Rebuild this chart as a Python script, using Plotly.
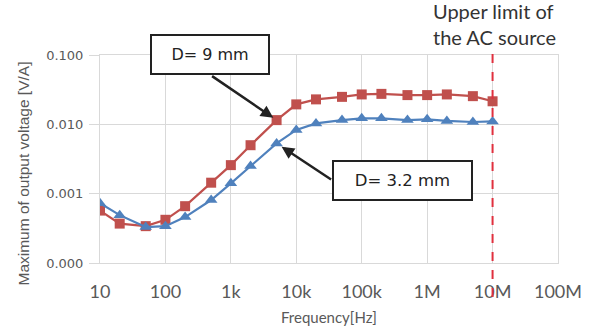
import math
import plotly.graph_objects as go

# ---- data ----
freq_hz = [10, 20, 50, 100, 200, 500, 1e3, 2e3, 5e3, 1e4, 2e4, 5e4,
           1e5, 2e5, 5e5, 1e6, 2e6, 5e6, 1e7]
d9_mm = [0.00057, 0.00037, 0.00034, 0.00042, 0.00066, 0.00144, 0.00258,
         0.0050, 0.0115, 0.0194, 0.0229, 0.0249, 0.0270, 0.0275, 0.0264,
         0.0264, 0.0270, 0.0255, 0.0215]
d32_mm = [0.00073, 0.00049, 0.00033, 0.00034, 0.00046, 0.00081, 0.00141,
          0.0025, 0.0053, 0.0083, 0.0103, 0.0115, 0.0122, 0.0122, 0.0115,
          0.0118, 0.0112, 0.0108, 0.0110]
x_tickvals = [10, 100, 1e3, 1e4, 1e5, 1e6, 1e7, 1e8]
x_ticktext = ["10", "100", "1k", "10k", "100k", "1M", "10M", "100M"]
y_tickvals = [0.0001, 0.001, 0.01, 0.1]
y_ticktext = ["0.000", "0.001", "0.010", "0.100"]
ac_limit_hz = 1e7
arrow_idx = 8  # the 5 kHz point that both labels point to

RED = "#C0504D"
BLUE = "#4F81BD"
GRID = "#D9D9D9"
TXT = "#595959"

fig = go.Figure()
fig.add_trace(go.Scatter(
    x=freq_hz, y=d9_mm, mode="lines+markers", name="D= 9 mm",
    line=dict(color=RED, width=2.2),
    marker=dict(symbol="square", size=10, color=RED)))
fig.add_trace(go.Scatter(
    x=freq_hz, y=d32_mm, mode="lines+markers", name="D= 3.2 mm",
    line=dict(color=BLUE, width=2.2),
    marker=dict(symbol="triangle-up", size=11, color=BLUE)))

# upper limit line
fig.add_shape(type="line", xref="x", yref="paper",
              x0=ac_limit_hz, x1=ac_limit_hz, y0=-0.163, y1=1.01,
              line=dict(color="#E0303E", width=2, dash="dash"))

# arrows (near-empty annotations; log axes take log10 positions)
fig.add_annotation(x=math.log10(freq_hz[arrow_idx]),
                   y=math.log10(d9_mm[arrow_idx]), xref="x", yref="y",
                   text=" ", font=dict(size=1), showarrow=True,
                   ax=-66, ay=-45, arrowhead=2, arrowsize=1, arrowwidth=2.5,
                   arrowcolor="#222222", standoff=4)
fig.add_annotation(x=math.log10(freq_hz[arrow_idx]),
                   y=math.log10(d32_mm[arrow_idx]), xref="x", yref="y",
                   text=" ", font=dict(size=1), showarrow=True,
                   ax=56, ay=37, arrowhead=2, arrowsize=1, arrowwidth=2.5,
                   arrowcolor="#222222", standoff=6)

# label boxes
fig.add_annotation(x=0.2391, y=1.0014, xref="paper", yref="paper",
                   xanchor="center", yanchor="middle",
                   text="D= 9 mm", showarrow=False,
                   font=dict(family="DejaVu Sans", size=16, color="#222222"),
                   bgcolor="white", bordercolor="#222222", borderwidth=2,
                   borderpad=1, width=114, height=35)
fig.add_annotation(x=0.6605, y=0.395, xref="paper", yref="paper",
                   xanchor="center", yanchor="middle",
                   text="D= 3.2 mm", showarrow=False,
                   font=dict(family="DejaVu Sans", size=16.5, color="#222222"),
                   bgcolor="white", bordercolor="#222222", borderwidth=2,
                   borderpad=1, width=135, height=35)

# upper limit text
fig.add_annotation(x=1.0, y=1.0, xref="paper", yref="paper",
                   xanchor="right", yanchor="bottom", yshift=4,
                   text="Upper limit of<br>the AC source", showarrow=False,
                   align="left",
                   font=dict(family="Lato", size=20, color="#333333"))

# axis titles as annotations
fig.add_annotation(x=0.5, y=-0.262, xref="paper", yref="paper",
                   xanchor="center", yanchor="middle",
                   text="Frequency[Hz]", showarrow=False,
                   font=dict(family="Lato", size=15, color=TXT))
fig.add_annotation(x=-0.166, y=0.43, xref="paper", yref="paper",
                   xanchor="center", yanchor="middle",
                   textangle=-90, text="Maximum of output voltage [V/A]",
                   showarrow=False,
                   font=dict(family="Liberation Sans", size=15.5, color=TXT))

fig.update_xaxes(type="log", range=[1, 8], tickvals=x_tickvals,
                 ticktext=x_ticktext, showgrid=True, gridcolor=GRID,
                 gridwidth=1, showline=True, linecolor=GRID, mirror=True,
                 zeroline=False, ticks="", ticklabelstandoff=12,
                 tickfont=dict(family="Lato", size=18, color=TXT))
fig.update_yaxes(type="log", range=[-4, -1], tickvals=y_tickvals,
                 ticktext=y_ticktext, showgrid=True, gridcolor=GRID,
                 gridwidth=1, showline=True, linecolor=GRID, mirror=True,
                 zeroline=False, ticks="outside", ticklen=10, tickcolor=GRID,
                 ticklabelstandoff=3,
                 tickfont=dict(family="DejaVu Sans", size=13, color=TXT))

fig.update_layout(width=593, height=326, autosize=False,
                  margin=dict(l=100, r=35, t=55, b=63),
                  plot_bgcolor="white", paper_bgcolor="white",
                  showlegend=False)

fig.write_html("out.html")
